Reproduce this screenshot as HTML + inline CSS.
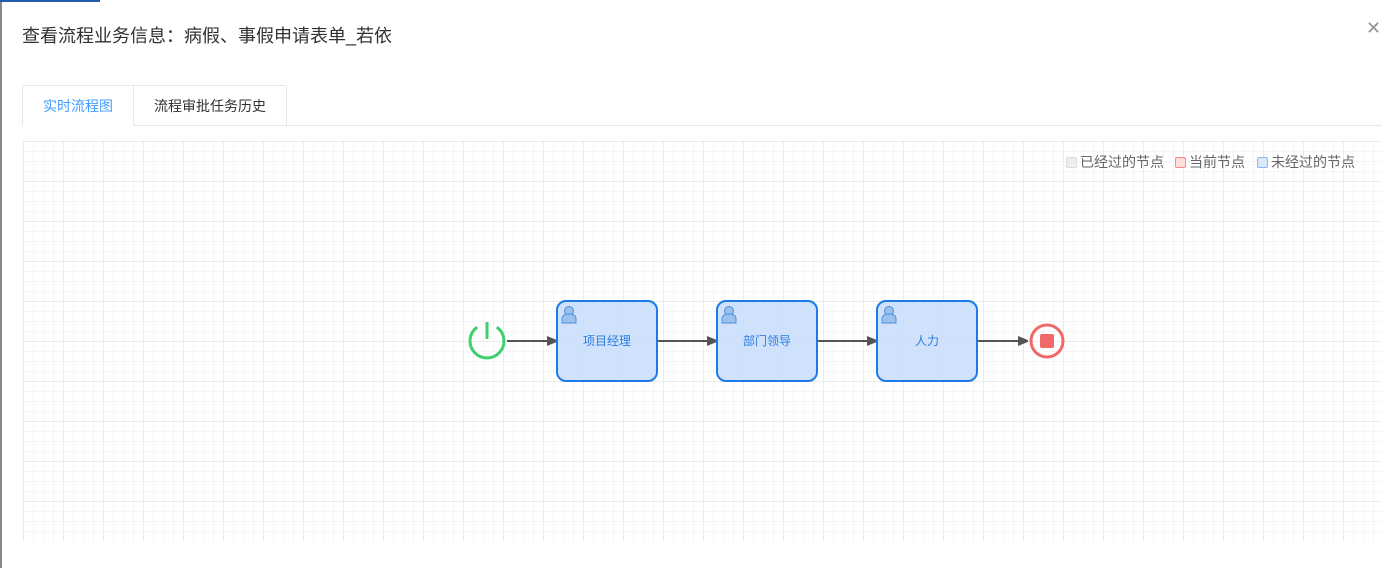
<!DOCTYPE html>
<html><head><meta charset="utf-8"><style>
body{margin:0;width:1398px;height:568px;background:#fff;font-family:"Liberation Sans","Noto Sans CJK SC",sans-serif;position:relative;overflow:hidden}
.t{position:absolute;left:22px;top:22px;font-size:18px;color:#303133}
.x{position:absolute;left:1366px;top:18px;font-size:18px;color:#909399}
.tabs{position:absolute;left:22px;top:85px;width:1360px;height:40px;border-bottom:1px solid #e4e7ed}
.tab{position:absolute;top:0;height:40px;line-height:40px;font-size:14px;text-align:center;border:1px solid #e4e7ed;border-bottom:none;box-sizing:border-box}
.grid{position:absolute;left:22px;top:141px;width:1360px;height:400px;
background-image:linear-gradient(#ebebeb 1px,transparent 1px),linear-gradient(90deg,#ebebeb 1px,transparent 1px),linear-gradient(#f5f5f5 1px,transparent 1px),linear-gradient(90deg,#f5f5f5 1px,transparent 1px);
background-size:40px 40px,40px 40px,10px 10px,10px 10px;background-position:0 0,1px 0,0 0,1px 0}
.lg{position:absolute;top:152px;font-size:14px;color:#666}
.lg i{display:inline-block;width:9px;height:9px;border-radius:2px;margin-right:3px;vertical-align:-1px}
</style></head><body>
<div style="position:absolute;left:0;top:0;width:2px;height:568px;background:#888"></div>
<div style="position:absolute;left:0;top:0;width:100px;height:2px;background:#1f5fa8"></div>
<div class="t">查看流程业务信息：病假、事假申请表单_若依</div>
<div class="x">✕</div>
<div class="tabs">
<div class="tab" style="left:0;width:112px;color:#409eff;border-bottom:1px solid #fff;height:41px;background:#fff">实时流程图</div>
<div class="tab" style="left:111px;width:154px;color:#303133">流程审批任务历史</div>
</div>
<div class="grid"></div>
<div class="lg" style="left:1066px"><i style="background:#eee;border:1px solid #ddd"></i>已经过的节点</div>
<div class="lg" style="left:1175px"><i style="background:#fdd;border:1px solid #f88"></i>当前节点</div>
<div class="lg" style="left:1257px"><i style="background:#dbe9fb;border:1px solid #8bb8f0"></i>未经过的节点</div>
<svg width="1398" height="568" style="position:absolute;left:0;top:0">
<defs><marker id="a" markerWidth="10" markerHeight="10" refX="10" refY="5" orient="auto" markerUnits="userSpaceOnUse"><path d="M0,0L12,5L0,10z" fill="#555"/></marker>
<g id="u"><circle cx="9" cy="7" r="4.5" fill="#9cc1ef" stroke="#4a8fe0"/><path d="M2,19v-4q0-5 7-5q7 0 7 5v4z" fill="#9cc1ef" stroke="#4a8fe0"/></g></defs>
<g fill="none">
<path d="M477.2,327.1A17,17 0 1 0 496.8,327.1" stroke="#3ecf6e" stroke-width="3"/>
<line x1="487" y1="322" x2="487" y2="339" stroke="#3ecf6e" stroke-width="3"/>
<circle cx="1047" cy="341" r="16" stroke="#f06868" stroke-width="3"/>
</g>
<rect x="1040" y="334" width="14" height="14" rx="2" fill="#f06868"/>
<g stroke="#555" stroke-width="2" marker-end="url(#a)">
<line x1="507" y1="341" x2="557" y2="341"/><line x1="657" y1="341" x2="717" y2="341"/>
<line x1="817" y1="341" x2="877" y2="341"/><line x1="977" y1="341" x2="1028" y2="341"/></g>
<g font-size="12" fill="#2b7de0" text-anchor="middle" font-family="Liberation Sans,Noto Sans CJK SC,sans-serif">
<rect x="557" y="301" width="100" height="80" rx="9" fill="#cde0fb" fill-opacity=".95" stroke="#1c7ae6" stroke-width="2"/>
<rect x="717" y="301" width="100" height="80" rx="9" fill="#cde0fb" fill-opacity=".95" stroke="#1c7ae6" stroke-width="2"/>
<rect x="877" y="301" width="100" height="80" rx="9" fill="#cde0fb" fill-opacity=".95" stroke="#1c7ae6" stroke-width="2"/>
<use href="#u" x="560" y="304"/><use href="#u" x="720" y="304"/><use href="#u" x="880" y="304"/>
<text x="607" y="345">项目经理</text><text x="767" y="345">部门领导</text><text x="927" y="345">人力</text></g>
</svg>
</body></html>
